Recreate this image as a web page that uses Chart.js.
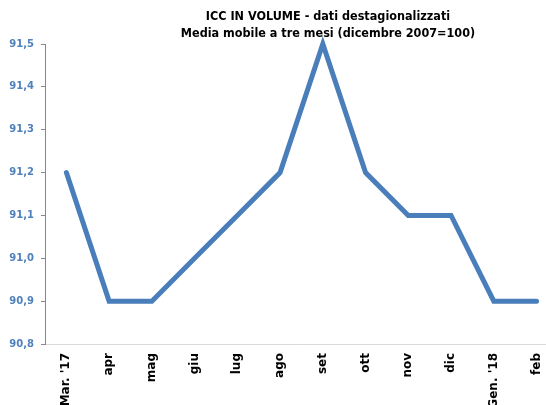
<!DOCTYPE html>
<html>
<head>
<meta charset="utf-8">
<script src="https://cdn.jsdelivr.net/npm/chart.js@4/dist/chart.umd.min.js"></script>
<style>
  html, body { margin: 0; padding: 0; background: #fff; overflow: hidden; }
  #wrap { width: 546px; height: 405px; overflow: hidden; position: relative; }
</style>
</head>
<body>
<div id="wrap"><canvas id="iccChart" width="560" height="420"></canvas></div>
<script>
const months = ["Mar. '17", "apr", "mag", "giu", "lug", "ago", "set", "ott", "nov", "dic", "Gen. '18", "feb"];
const iccValues = [91.2, 90.9, 90.9, 91.0, 91.1, 91.2, 91.5, 91.2, 91.1, 91.1, 90.9, 90.9];
const titleLines = ["ICC IN VOLUME - dati destagionalizzati", "Media mobile a tre mesi (dicembre 2007=100)"];

// title drawn by hand, it sits off-centre in the original
const titlePlugin = {
  id: "iccTitle",
  afterDraw(chart) {
    const ctx = chart.ctx;
    ctx.save();
    ctx.fillStyle = "#000";
    ctx.font = "bold 12.5px 'DejaVu Sans Condensed'";
    ctx.textAlign = "center";
    ctx.textBaseline = "middle";
    ctx.fillText(titleLines[0], 328, 17);
    ctx.fillText(titleLines[1], 328, 34);
    ctx.restore();
  }
};

const ctx = document.getElementById("iccChart").getContext("2d");
new Chart(ctx, {
  type: "line",
  data: {
    labels: months,
    datasets: [
      {
        data: iccValues,
        borderColor: "#4A7EBB",
        borderWidth: 5,
        borderCapStyle: "round",
        borderJoinStyle: "miter",
        pointRadius: 0,
        tension: 0,
        fill: false,
        clip: false,
      },
    ],
  },
  options: {
    responsive: false,
    animation: false,
    layout: { padding: { top: 44, right: 2, left: 0, bottom: 0 } },
    plugins: {
      legend: { display: false },
      tooltip: { enabled: false },
    },
    scales: {
      x: {
        offset: true,
        grid: { display: true, drawOnChartArea: false, drawTicks: false },
        border: { color: "#d9d9d9", width: 1 },
        ticks: {
          minRotation: 90,
          maxRotation: 90,
          autoSkip: false,
          padding: 9,
          color: "#000",
          font: { family: "'DejaVu Sans'", size: 12, weight: "bold" },
        },
        afterFit(scale) {
          scale.height = 76;
        },
      },
      y: {
        min: 90.8,
        max: 91.5,
        grid: { drawOnChartArea: false, drawTicks: true, tickLength: 4, tickColor: "#888" },
        border: { color: "#888", width: 1 },
        ticks: {
          stepSize: 0.1,
          padding: 7,
          color: "#4F81BD",
          font: { family: "'DejaVu Sans'", size: 10, weight: "bold" },
          callback: (v) => v.toFixed(1).replace(".", ","),
        },
        afterFit(scale) {
          scale.width = 45;
        },
      },
    },
  },
  plugins: [titlePlugin],
});
</script>
</body>
</html>
